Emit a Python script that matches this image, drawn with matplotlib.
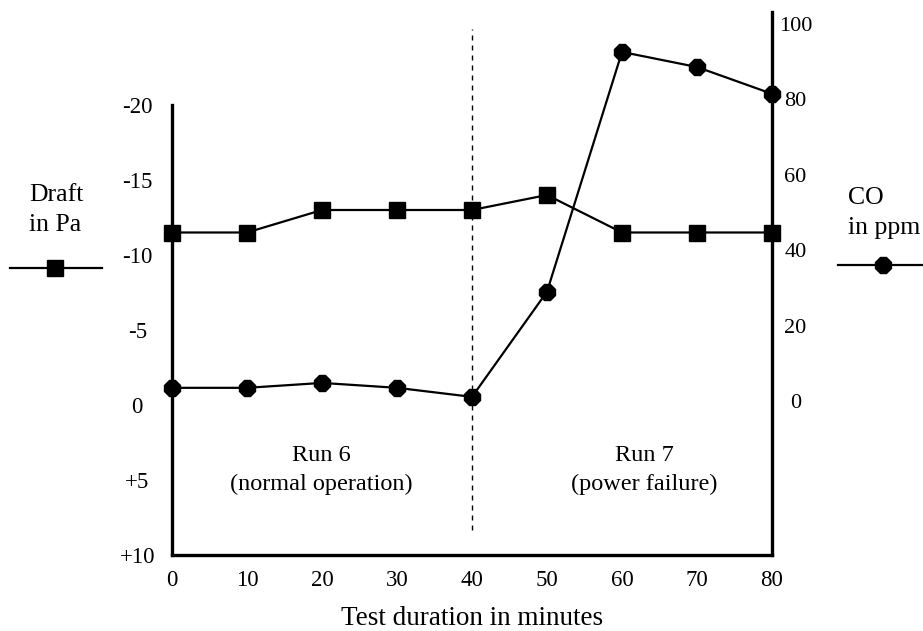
import matplotlib
matplotlib.use('Agg')
import matplotlib.pyplot as plt
from matplotlib.lines import Line2D

plt.rcParams['font.family'] = ['Liberation Serif', 'DejaVu Serif']

# data
minutes = [0, 10, 20, 30, 40, 50, 60, 70, 80]
draft_pa = [-11.5, -11.5, -13, -13, -13, -14, -11.5, -11.5, -11.5]
co_ppm = [3.5, 3.5, 4.8, 3.5, 1.1, 29, 92.6, 88.6, 81.5]

draft_ticks = [-20, -15, -10, -5, 0, 5, 10]
draft_labels = ['-20', '-15', '-10', '-5', '0', '+5', '+10']
co_ticks = [0, 20, 40, 60, 80, 100]

W, H = 923, 631
fig = plt.figure(figsize=(W / 100, H / 100), dpi=100)
ax = fig.add_axes([172 / W, 76 / H, 600 / W, 543 / H])
ax2 = ax.twinx()

ax.set_xlim(0, 80)
ax.set_ylim(10, -26.2)
ax2.set_ylim(-40.85, 103.2)

# draft (squares)
ax.plot(minutes, draft_pa, color='black', lw=1.6, marker='s', ms=11.5,
        clip_on=False, zorder=5)
# CO (octagons)
ax2.plot(minutes, co_ppm, color='black', lw=1.6, marker='8', ms=13,
         clip_on=False, zorder=5)

# divider between the two runs
ax.vlines(40, 8.3, -25.1, color='black', lw=1, linestyles=(0, (3.6, 3.6)))

for s in ['top', 'right']:
    ax.spines[s].set_visible(False)
for s in ['top', 'left', 'bottom']:
    ax2.spines[s].set_visible(False)
for a, s in [(ax, 'left'), (ax, 'bottom'), (ax2, 'right')]:
    a.spines[s].set_linewidth(2.4)
ax.spines['left'].set_bounds(-20, 10)

ax.set_xticks(minutes)
ax.tick_params(axis='x', length=0, pad=11, labelsize=16.5)
ax.set_yticks(draft_ticks)
ax.set_yticklabels(draft_labels)
ax.tick_params(axis='y', length=0, pad=25, labelsize=16.5)
for t in ax.get_yticklabels():
    t.set_horizontalalignment('center')
ax2.set_yticks(co_ticks)
ax2.tick_params(axis='y', length=0, pad=17, labelsize=16)
for t in ax2.get_yticklabels():
    t.set_horizontalalignment('center')

def fx(x):
    return x / W

def fy(y):
    return 1 - y / H

fig.text(fx(472), fy(625), 'Test duration in minutes', ha='center',
         va='baseline', fontsize=19.5)
fig.text(fx(321), fy(470), 'Run 6\n(normal operation)', ha='center',
         va='center', fontsize=17.5, linespacing=1.45)
fig.text(fx(644), fy(470), 'Run 7\n(power failure)', ha='center',
         va='center', fontsize=17.5, linespacing=1.45)
fig.text(fx(29), fy(210), 'Draft\nin Pa', ha='left', va='center',
         fontsize=18.5, linespacing=1.45)
fig.text(fx(848), fy(213), 'CO\nin ppm', ha='left', va='center',
         fontsize=18.5, linespacing=1.45)

# legend samples
fig.add_artist(Line2D([fx(10), fx(102)], [fy(268), fy(268)], color='black',
                      lw=1.6))
fig.add_artist(Line2D([fx(55)], [fy(268)], color='black', marker='s',
                      ms=11.5, lw=0))
fig.add_artist(Line2D([fx(838), fx(923)], [fy(265), fy(265)], color='black',
                      lw=1.6))
fig.add_artist(Line2D([fx(883)], [fy(265)], color='black', marker='8',
                      ms=13, lw=0))

fig.savefig('out.png', dpi=100)
